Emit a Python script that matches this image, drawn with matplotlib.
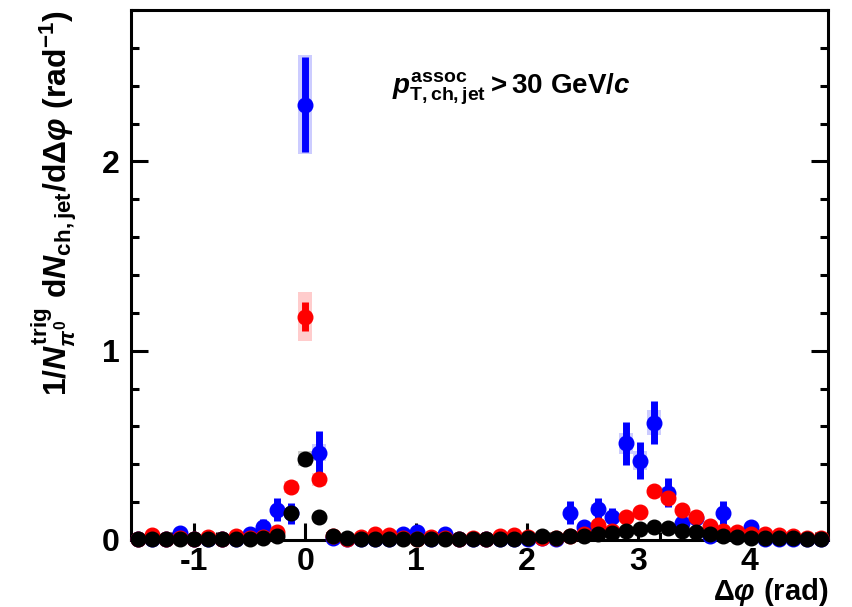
import numpy as np
import matplotlib
matplotlib.use('Agg')
import matplotlib.pyplot as plt
from matplotlib.ticker import MultipleLocator

plt.rcParams['font.family'] = ['Liberation Sans', 'DejaVu Sans']
plt.rcParams['font.weight'] = 'bold'
plt.rcParams['axes.unicode_minus'] = False
plt.rcParams['mathtext.fontset'] = 'custom'
plt.rcParams['mathtext.rm'] = 'Liberation Sans:bold'
plt.rcParams['mathtext.bf'] = 'Liberation Sans:bold'
plt.rcParams['mathtext.it'] = 'Liberation Sans:italic:bold'
plt.rcParams['mathtext.sf'] = 'Liberation Sans:bold'

# 50 bins over [-pi/2, 3pi/2), bin index -12 .. 37
nbins = 50
bin_w = 2 * np.pi / nbins
dphi = np.arange(-12, 38) * bin_w

# black
yield_k = [0.005, 0.005, 0.005, 0.005, 0.005, 0.005, 0.005, 0.005, 0.005, 0.01, 0.02,
           0.14, 0.43, 0.12,
           0.02, 0.01, 0.005, 0.005, 0.005, 0.005, 0.005, 0.005, 0.005, 0.005, 0.005,
           0.005, 0.005, 0.005, 0.01,
           0.02, 0.01, 0.02, 0.02, 0.03, 0.035, 0.05, 0.06, 0.07, 0.065, 0.05, 0.04,
           0.03, 0.02, 0.015, 0.01, 0.01, 0.01, 0.01, 0.005, 0.005]
stat_k = [0.005] * 50
sys_k = [0.0] * 11 + [0.015, 0.04, 0.015] + [0.0] * 36

# red
yield_r = [0.005, 0.025, 0.005, 0.01, 0.005, 0.015, 0.005, 0.02, 0.01, 0.015, 0.04,
           0.28, 1.18, 0.32,
           0.02, 0.005, 0.015, 0.03, 0.025, 0.01, 0.005, 0.015, 0.01, 0.005, 0.01,
           0.005, 0.02, 0.025, 0.015,
           0.01, 0.01, 0.02, 0.03, 0.08, 0.05, 0.12, 0.15, 0.26, 0.22, 0.16, 0.12,
           0.075, 0.045, 0.04, 0.03, 0.03, 0.025, 0.02, 0.01, 0.01]
stat_r = [0.01] * 11 + [0.02, 0.077, 0.02] + [0.01] * 36
sys_r = [0.0] * 11 + [0.03, 0.13, 0.035] + [0.0] * 21 + \
        [0.01, 0.015, 0.02, 0.025, 0.02, 0.015, 0.01] + [0.0] * 8

# blue
yield_b = [0.005, 0.005, 0.005, 0.035, 0.005, 0.005, 0.005, 0.005, 0.03, 0.07, 0.16,
           0.14, 2.30, 0.46,
           0.01, 0.005, 0.005, 0.005, 0.005, 0.03, 0.04, 0.005, 0.03, 0.005, 0.005,
           0.005, 0.005, 0.005, 0.005,
           0.01, 0.005, 0.145, 0.07, 0.165, 0.12, 0.51, 0.42, 0.62, 0.25, 0.09, 0.115,
           0.02, 0.145, 0.02, 0.07, 0.005, 0.005, 0.005, 0.005, 0.005]
stat_b = [0.01, 0.01, 0.01, 0.02, 0.01, 0.01, 0.01, 0.01, 0.02, 0.04, 0.06,
          0.055, 0.25, 0.115,
          0.01, 0.01, 0.01, 0.01, 0.01, 0.02, 0.03, 0.01, 0.02, 0.01, 0.01,
          0.01, 0.01, 0.01, 0.01,
          0.01, 0.01, 0.06, 0.02, 0.055, 0.05, 0.115, 0.10, 0.115, 0.077, 0.04, 0.04,
          0.01, 0.06, 0.01, 0.03, 0.01, 0.01, 0.01, 0.01, 0.01]
sys_b = [0.0] * 9 + [0.01, 0.02,
         0.02, 0.26, 0.045] + [0.0] * 15 + \
        [0.0, 0.0, 0.02, 0.015, 0.025, 0.02, 0.057, 0.05, 0.067, 0.03, 0.012,
         0.015, 0.0, 0.02, 0.0, 0.01, 0.0, 0.0, 0.0, 0.0, 0.0]

fig = plt.figure(figsize=(8.53, 6.07), dpi=100)
ax = fig.add_axes([0.1536, 0.1104, 0.8171, 0.873])

series = [
    (yield_b, stat_b, sys_b, 'blue'),
    (yield_r, stat_r, sys_r, 'red'),
    (yield_k, stat_k, sys_k, 'black'),
]

# systematic boxes underneath everything
for y, st, sy, c in series:
    y = np.array(y)
    sy = np.array(sy)
    ax.bar(dphi, 2 * sy, bottom=y - sy, width=bin_w * 0.98, color=c,
           alpha=0.2, linewidth=0, zorder=1)

for y, st, sy, c in series:
    ax.errorbar(dphi, y, yerr=st, fmt='o', ms=10.5, color=c, ecolor=c,
                elinewidth=5, capsize=0, zorder=3, clip_on=False)

ax.set_xlim(-np.pi / 2, 3 * np.pi / 2)
ax.set_ylim(0, 2.8)

ax.xaxis.set_major_locator(MultipleLocator(1))
ax.xaxis.set_minor_locator(MultipleLocator(0.2))
ax.yaxis.set_major_locator(MultipleLocator(1))
ax.yaxis.set_minor_locator(MultipleLocator(0.2))
ax.tick_params(which='both', direction='in', top=False, right=True, width=2.2,
               labelsize=23, pad=8)
ax.tick_params(axis='x', pad=5)
ax.tick_params(which='major', length=12)
ax.tick_params(which='minor', length=6)
for s in ax.spines.values():
    s.set_linewidth(2.2)

ax.set_ylabel(r'$1/N^{\mathrm{trig}}_{\pi^{0}}\ \mathrm{d}N_{\mathrm{ch,jet}}'
              r'/\mathrm{d}\Delta\varphi\ \mathrm{(rad^{-1})}$',
              fontsize=23, loc='top')
ax.yaxis.set_label_coords(-0.075, 1.0)
ax.set_xlabel(r'$\Delta\varphi\ \mathrm{(rad)}$', fontsize=21, loc='right')
ax.xaxis.set_label_coords(1.0, -0.068)

ax.text(0.374, 0.843, r'$p^{\mathrm{assoc}}_{\mathrm{T,ch,jet}}>\mathrm{30\ GeV/}c$',
        transform=ax.transAxes, fontsize=20, va='baseline')

fig.savefig('out.png', dpi=100)
